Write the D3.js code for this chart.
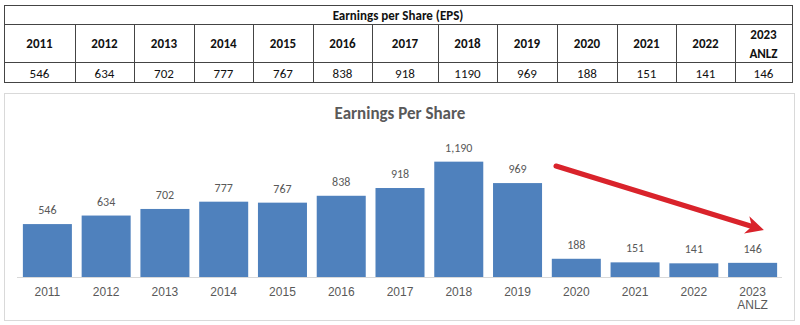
<!DOCTYPE html>
<html>
<head>
<meta charset="utf-8">
<script src="https://cdn.jsdelivr.net/npm/d3@7"></script>
<style>
  html, body { margin: 0; padding: 0; background: #fff; }
  svg { display: block; font-family: Carlito, Calibri, Lato, "Open Sans", sans-serif; }
</style>
</head>
<body>
<svg id="chart" width="800" height="325"></svg>
<script>
// Earnings per share by year
const years = ["2011", "2012", "2013", "2014", "2015", "2016", "2017", "2018", "2019", "2020", "2021", "2022", "2023 ANLZ"];
const eps = [546, 634, 702, 777, 767, 838, 918, 1190, 969, 188, 151, 141, 146];
const tableTitle = "Earnings per Share (EPS)";
const chartTitle = "Earnings Per Share";

const svg = d3.select("#chart");
const textColor = "#595959";

// ---------- Table ----------
const colEdges = [4, 75, 134, 194, 253, 313, 372, 438, 497, 557, 617, 676, 735, 792];
const rowEdges = [5, 24, 62, 82];
const table = svg.append("g");

table.append("rect")
  .attr("x", colEdges[0] + 0.5).attr("y", rowEdges[0] + 0.5)
  .attr("width", colEdges[colEdges.length - 1] - colEdges[0])
  .attr("height", rowEdges[3] - rowEdges[0])
  .attr("fill", "none").attr("stroke", "#444").attr("stroke-width", 1);

[rowEdges[1], rowEdges[2]].forEach(y => {
  table.append("line")
    .attr("x1", colEdges[0]).attr("x2", colEdges[colEdges.length - 1])
    .attr("y1", y + 0.5).attr("y2", y + 0.5)
    .attr("stroke", "#444");
});
colEdges.slice(1, -1).forEach(x => {
  table.append("line")
    .attr("x1", x + 0.5).attr("x2", x + 0.5)
    .attr("y1", rowEdges[1]).attr("y2", rowEdges[3])
    .attr("stroke", "#444");
});

table.append("text")
  .attr("x", (colEdges[0] + colEdges[colEdges.length - 1]) / 2)
  .attr("y", 19.5)
  .attr("text-anchor", "middle")
  .attr("font-size", 13).attr("font-weight", "bold").attr("fill", "#111")
  .text(tableTitle);

years.forEach((yr, i) => {
  const cx = (colEdges[i] + colEdges[i + 1]) / 2;
  const parts = yr.split(" ");
  const head = table.append("text")
    .attr("text-anchor", "middle")
    .attr("font-size", 13).attr("font-weight", "bold").attr("fill", "#111");
  if (parts.length === 1) {
    head.append("tspan").attr("x", cx).attr("y", 48).text(parts[0]);
  } else {
    head.append("tspan").attr("x", cx).attr("y", 39).text(parts[0]);
    head.append("tspan").attr("x", cx).attr("y", 57.5).text(parts[1]);
  }
  table.append("text")
    .attr("x", cx).attr("y", 77.5)
    .attr("text-anchor", "middle")
    .attr("font-size", 13).attr("fill", "#111")
    .text(eps[i]);
});

// ---------- Bar chart ----------
const chart = svg.append("g");
chart.append("rect")
  .attr("x", 4.5).attr("y", 93.5).attr("width", 790).attr("height", 227)
  .attr("fill", "#fff").attr("stroke", "#d9d9d9");

chart.append("text")
  .attr("x", 400).attr("y", 119)
  .attr("text-anchor", "middle")
  .attr("font-size", 17).attr("font-weight", "bold").attr("fill", textColor)
  .text(chartTitle);

const x = d3.scaleBand().domain(years).range([18, 782]).paddingInner(0.166).paddingOuter(0.083);
const y = d3.scaleLinear().domain([0, 1400]).range([277, 141.3]);

chart.selectAll("rect.bar")
  .data(eps)
  .join("rect")
  .attr("class", "bar")
  .attr("x", (d, i) => x(years[i]))
  .attr("width", x.bandwidth())
  .attr("y", d => y(d))
  .attr("height", d => y(0) - y(d))
  .attr("fill", "#4f81bd");

const fmt = d3.format(",");
chart.selectAll("text.val")
  .data(eps)
  .join("text")
  .attr("class", "val")
  .attr("x", (d, i) => x(years[i]) + x.bandwidth() / 2)
  .attr("y", d => y(d) - 10)
  .attr("text-anchor", "middle")
  .attr("font-size", 12).attr("fill", textColor)
  .text(d => fmt(d));

// category axis
const axis = chart.append("g")
  .attr("transform", `translate(0,${y(0)})`)
  .call(d3.axisBottom(x).tickSize(0).tickPadding(0));
axis.select(".domain").attr("stroke", "#d9d9d9").attr("d", "M17,0.5H782");
axis.selectAll(".tick text").each(function(d) {
  const t = d3.select(this);
  const parts = d.split(" ");
  t.text(null)
    .attr("font-size", 12).attr("fill", textColor)
    .attr("font-family", null).attr("y", null).attr("dy", null);
  parts.forEach((p, k) => {
    t.append("tspan").attr("x", 0).attr("y", 18.5 + k * 13.5).text(p);
  });
});

// downward trend arrow
const defs = svg.append("defs");
defs.append("marker")
  .attr("id", "head")
  .attr("viewBox", "0 0 10 10")
  .attr("refX", 6).attr("refY", 5)
  .attr("markerWidth", 3.6).attr("markerHeight", 3.6)
  .attr("orient", "auto")
  .append("path")
  .attr("d", "M0,0 L10,5 L0,10 L3,5 Z")
  .attr("fill", "#d9232b");

chart.append("line")
  .attr("x1", 556).attr("y1", 166)
  .attr("x2", 757).attr("y2", 228)
  .attr("stroke", "#d9232b").attr("stroke-width", 5)
  .attr("stroke-linecap", "round")
  .attr("marker-end", "url(#head)");
</script>
</body>
</html>
